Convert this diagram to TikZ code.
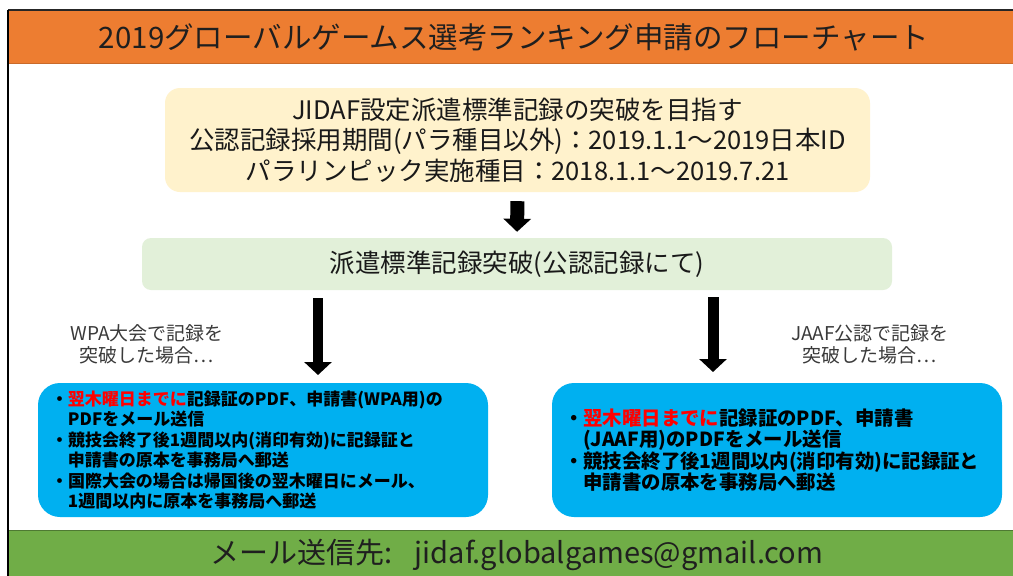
\documentclass[tikz,border=0pt]{standalone}
\usepackage{fontspec}
\setmainfont{Noto Sans CJK JP}
\usetikzlibrary{arrows.meta}
\definecolor{orangeband}{HTML}{ED7D31}
\definecolor{greenband}{HTML}{70AD47}
\definecolor{yellowbox}{HTML}{FFF2CC}
\definecolor{lightgreen}{HTML}{E2F0D9}
\definecolor{bluebox}{HTML}{00B0F0}
\definecolor{redtext}{HTML}{FF0000}
\definecolor{labelgray}{HTML}{3A3A3A}
\begin{document}
\begin{tikzpicture}[x=1pt,y=-1pt,
  bandtext/.style={text=black!88, inner sep=0pt},
  softbox/.style={rounded corners=#1, inner sep=0pt, align=center},
  bluestyle/.style={fill=bluebox, rounded corners=22pt, inner ysep=0pt, align=left, minimum height=134pt, text=black, font=\bfseries},
  sidelabel/.style={text=labelgray, align=center, inner sep=0pt, font=\fontsize{19}{22}\selectfont},
  blockarrow/.style={line width=#1, -{Triangle[width=27pt,length=13pt]}},
]
\useasboundingbox (0,0) rectangle (1013,576);
\fill[white] (0,0) rectangle (1013,576);
% title band
\fill[orangeband] (8,10) rectangle (1013,63);
\draw[black!85, line width=1.4pt] (8,10) -- (1013,10);
\draw[orangeband!85!black, line width=0.6pt] (8,63) -- (1013,63);
\node[bandtext, font=\fontsize{29.5}{32}\selectfont] (title) at (514,37) {2019グローバルゲームス選考ランキング申請のフローチャート};
% bottom band
\fill[greenband] (8,530) rectangle (1013,576);
\draw[greenband!70!black, line width=0.8pt] (8,530) -- (1013,530);
\node[bandtext, font=\fontsize{29}{32}\selectfont] (mail) at (517,555) {メール送信先:\hspace{22pt}jidaf.globalgames@gmail.com};
% left border
\draw[black, line width=1.5pt] (8,10) -- (8,576);
% goal box
\node[softbox=15pt, fill=yellowbox, minimum width=705pt, minimum height=104pt,
      font=\fontsize{25.5}{30.5}\selectfont, text=black!90] (goal) at (517.5,140)
  {JIDAF設定派遣標準記録の突破を目指す\\公認記録採用期間(パラ種目以外)：2019.1.1～2019日本ID\\パラリンピック実施種目：2018.1.1～2019.7.21};
% break box
\node[softbox=9pt, fill=lightgreen, minimum width=750pt, minimum height=52pt,
      font=\fontsize{25.5}{30}\selectfont, text=black!90] (break) at (517,264)
  {派遣標準記録突破(公認記録にて)};
\draw[blockarrow=14pt, shorten <=9pt, shorten >=6pt] (goal.south) -- (break.north);
% side labels
\node[sidelabel] (wpalabel) at (147,344) {WPA大会で記録を\\突破した場合…};
\node[sidelabel] (jaaflabel) at (870,344) {JAAF公認で記録を\\突破した場合…};
% blue boxes
\node[bluestyle, text width=424pt, inner xsep=13pt, font=\bfseries\fontsize{17}{20.4}\selectfont] (wpabox) at (263,450)
  {・{\color{redtext}翌木曜日までに}記録証のPDF、申請書(WPA用)の\\
   \hspace*{1em}PDFをメール送信\\
   ・競技会終了後1週間以内(消印有効)に記録証と\\
   \hspace*{1em}申請書の原本を事務局へ郵送\\
   ・国際大会の場合は帰国後の翌木曜日にメール、\\
   \hspace*{1em}1週間以内に原本を事務局へ郵送};
\node[bluestyle, text width=426pt, inner xsep=12pt, font=\bfseries\fontsize{19.4}{21.3}\selectfont] (jaafbox) at (777,450)
  {・{\color{redtext}翌木曜日までに}記録証のPDF、申請書\\
   \hspace*{1em}(JAAF用)のPDFをメール送信\\
   ・競技会終了後1週間以内(消印有効)に記録証と\\
   \hspace*{1em}申請書の原本を事務局へ郵送};
% arrows to blue boxes
\coordinate (wpatop) at (318,290);
\coordinate (wpabot) at (318,383);
\coordinate (jaaftop) at (713,290);
\coordinate (jaafbot) at (713,383);
\draw[blockarrow=10pt, shorten <=8pt, shorten >=8pt] (wpatop) -- (wpabot);
\draw[blockarrow=11pt, shorten <=7pt, shorten >=11pt] (jaaftop) -- (jaafbot);
\end{tikzpicture}
\end{document}
